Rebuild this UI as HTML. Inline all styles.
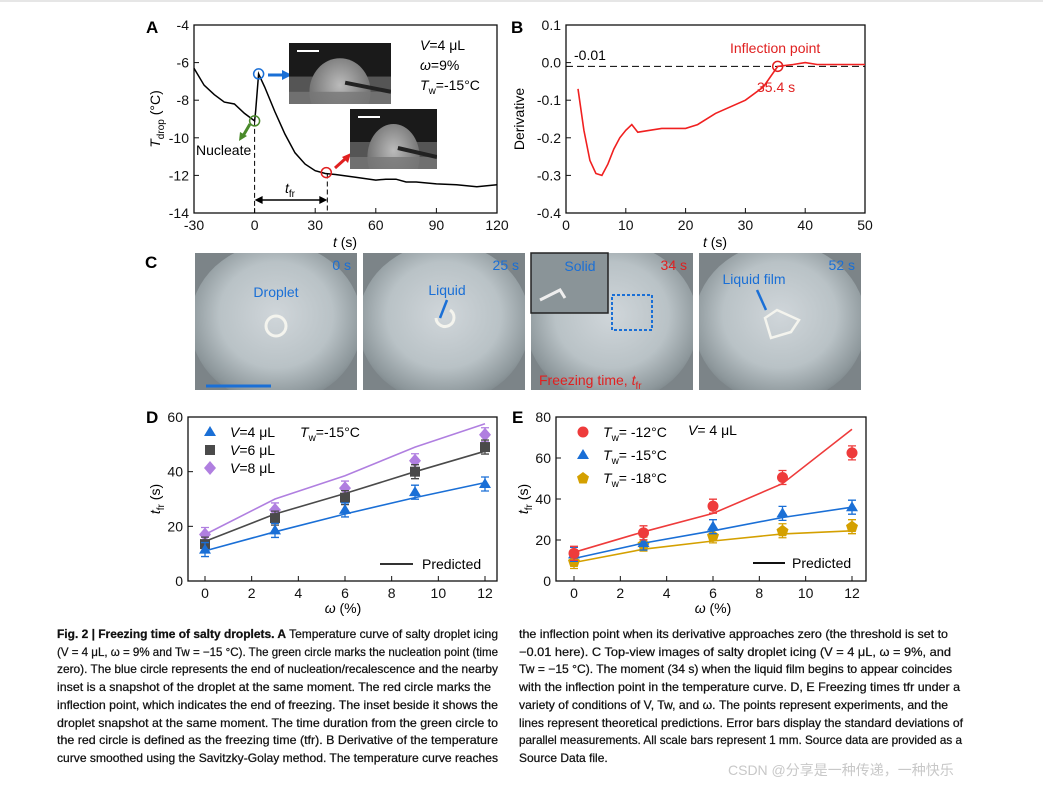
<!DOCTYPE html>
<html><head><meta charset="utf-8"><style>
body{margin:0;background:#fff;width:1043px;height:787px;overflow:hidden}
svg{font-family:"Liberation Sans",Arial,sans-serif}
.tk{font-size:14px;fill:#111}
.cap{font-size:12px;fill:#111;stroke:#111;stroke-width:0.25}
</style></head><body>
<svg id="s" width="1043" height="787" xmlns="http://www.w3.org/2000/svg">
<defs>
<radialGradient id="drop" cx="50%" cy="45%" r="60%"><stop offset="0" stop-color="#d0d6da"/><stop offset="0.55" stop-color="#b9c2c6"/><stop offset="0.85" stop-color="#8d979b"/><stop offset="1" stop-color="#6f787c"/></radialGradient>
<radialGradient id="dome" cx="50%" cy="40%" r="60%"><stop offset="0" stop-color="#bbb"/><stop offset="1" stop-color="#666"/></radialGradient>
<clipPath id="c0"><rect x="195" y="253" width="162" height="137"/></clipPath>
<clipPath id="c1"><rect x="363" y="253" width="162" height="137"/></clipPath>
<clipPath id="c2"><rect x="531" y="253" width="162" height="137"/></clipPath>
<clipPath id="c3"><rect x="699" y="253" width="162" height="137"/></clipPath>
<clipPath id="i0"><rect x="289" y="43" width="102" height="61"/></clipPath>
<clipPath id="i1"><rect x="350" y="109" width="87" height="60"/></clipPath>
</defs>
<line x1="0" y1="1" x2="1043" y2="1" stroke="#ccc"/>
<g id="gA"></g>
<g id="gB"></g>
<g id="gC"></g>
<g id="gD"></g>
<g id="gE"></g>
<g class="cap">
<text x="57" y="638" textLength="441" lengthAdjust="spacingAndGlyphs"><tspan font-weight="bold">Fig. 2 | Freezing time of salty droplets. A</tspan> Temperature curve of salty droplet icing</text>
<text x="57" y="656" textLength="441" lengthAdjust="spacingAndGlyphs">(V = 4 μL, ω = 9% and Tw = −15 °C). The green circle marks the nucleation point (time</text>
<text x="57" y="673" textLength="441" lengthAdjust="spacingAndGlyphs">zero). The blue circle represents the end of nucleation/recalescence and the nearby</text>
<text x="57" y="691" textLength="434" lengthAdjust="spacingAndGlyphs">inset is a snapshot of the droplet at the same moment. The red circle marks the</text>
<text x="57" y="709" textLength="441" lengthAdjust="spacingAndGlyphs">inflection point, which indicates the end of freezing. The inset beside it shows the</text>
<text x="57" y="727" textLength="441" lengthAdjust="spacingAndGlyphs">droplet snapshot at the same moment. The time duration from the green circle to</text>
<text x="57" y="744" textLength="441" lengthAdjust="spacingAndGlyphs">the red circle is defined as the freezing time (tfr). B Derivative of the temperature</text>
<text x="57" y="762" textLength="441" lengthAdjust="spacingAndGlyphs">curve smoothed using the Savitzky-Golay method. The temperature curve reaches</text>
<text x="519" y="638" textLength="429" lengthAdjust="spacingAndGlyphs">the inflection point when its derivative approaches zero (the threshold is set to</text>
<text x="519" y="656" textLength="432" lengthAdjust="spacingAndGlyphs">−0.01 here). C Top-view images of salty droplet icing (V = 4 μL, ω = 9%, and</text>
<text x="519" y="673" textLength="433" lengthAdjust="spacingAndGlyphs">Tw = −15 °C). The moment (34 s) when the liquid film begins to appear coincides</text>
<text x="519" y="691" textLength="441" lengthAdjust="spacingAndGlyphs">with the inflection point in the temperature curve. D, E Freezing times tfr under a</text>
<text x="519" y="709" textLength="429" lengthAdjust="spacingAndGlyphs">variety of conditions of V, Tw, and ω. The points represent experiments, and the</text>
<text x="519" y="727" textLength="444" lengthAdjust="spacingAndGlyphs">lines represent theoretical predictions. Error bars display the standard deviations of</text>
<text x="519" y="744" textLength="443" lengthAdjust="spacingAndGlyphs">parallel measurements. All scale bars represent 1 mm. Source data are provided as a</text>
<text x="519" y="762">Source Data file.</text>
</g>
<text x="728" y="775" font-size="14" fill="#c8c8c8" font-family="Liberation Sans, Noto Sans CJK SC, sans-serif">CSDN @分享是一种传递，一种快乐</text>
</svg>
<script>
// Panel A data
const tA=[-30,-25,-20,-15,-10,-5,0,0.5,2,5,10,15,20,25,30,35,40,50,60,65,70,75,80,90,100,110,120];
const TA=[-6.3,-7.2,-7.7,-8.1,-8.2,-8.7,-9.1,-8.6,-6.6,-7.3,-8.6,-9.8,-10.8,-11.4,-11.75,-11.9,-11.95,-12.1,-12.25,-12.2,-12.2,-12.35,-12.35,-12.45,-12.5,-12.6,-12.5];
const xTicksA=[-30,0,30,60,90,120];
const yTicksA=[-4,-6,-8,-10,-12,-14];
// Panel B data
const tB=[2,3,4,5,6,7,8,9,10,11,12,14,16,20,22,25,30,33,35.4,38,40,42,50];
const dB=[-0.07,-0.18,-0.26,-0.295,-0.3,-0.27,-0.23,-0.2,-0.18,-0.165,-0.185,-0.18,-0.175,-0.175,-0.165,-0.135,-0.1,-0.065,-0.01,-0.005,0,-0.005,-0.005];
const xTicksB=[0,10,20,30,40,50];
const yTicksB=[0.1,0.0,-0.1,-0.2,-0.3,-0.4];
// Panel D data
const omega=[0,3,6,9,12];
const d4=[11.5,18.5,26,32.5,35.5], d4p=[11,18,24.5,30.5,36];
const d6=[13.5,23,30.5,40,49], d6p=[14.5,24.5,32,40,47.5];
const d8=[17,26,34,44,53.5], d8p=[17,30,38.5,49,57.5];
// Panel E data
const e12=[13.5,23.5,36.5,50.5,62.5], e12p=[14,24,33,47.5,74];
const e15=[13,18.5,26.5,33,36], e15p=[11,18.5,24.5,31,36];
const e18=[9.5,18,22,24.5,26.5], e18p=[9,15.5,19.5,23,24.5];
const xTicksDE=[0,2,4,6,8,10,12];

const NS="http://www.w3.org/2000/svg";
function mk(p,tag,at,txt){const e=document.createElementNS(NS,tag);for(const k in at)e.setAttribute(k,at[k]);if(txt!==undefined)e.textContent=txt;p.appendChild(e);return e;}
function lin(d0,d1,r0,r1){return v=>r0+(v-d0)*(r1-r0)/(d1-d0);}
function axes(g,L,T,R,B,xs,ys,xt,yt,fmtY){
  const box=mk(g,'rect',{x:L,y:T,width:R-L,height:B-T,fill:'none',stroke:'#111','stroke-width':1.3});
  
  
  xt.forEach(v=>{const x=xs(v);mk(g,'line',{x1:x,y1:B,x2:x,y2:B-5,stroke:'#111'});
    const t=mk(g,'text',{x:x,y:B+17,'text-anchor':'middle',class:'tk'},String(v));
    
    });
  yt.forEach(v=>{const y=ys(v);mk(g,'line',{x1:L,y1:y,x2:L+5,y2:y,stroke:'#111'});
    const t=mk(g,'text',{x:L-5,y:y+5,'text-anchor':'end',class:'tk'},fmtY?fmtY(v):String(v));
    
    });
}
function path(g,xs,ys,X,Y,col,w){let d='';X.forEach((v,i)=>{d+=(i?'L':'M')+xs(v).toFixed(1)+','+ys(Y[i]).toFixed(1);});return mk(g,'path',{d:d,fill:'none',stroke:col,'stroke-width':w||1.5});}

// ---- A
const gA=document.getElementById('gA');
mk(gA,'text',{x:146,y:33,'font-size':17,'font-weight':'bold'},'A');
const xA=lin(-30,120,194,497), yA=lin(-4,-14,25,213);
axes(gA,194,25,497,213,xA,yA,xTicksA,yTicksA);
const la=path(gA,xA,yA,tA,TA,'#000',1.5);


mk(gA,'line',{x1:xA(0),y1:yA(-9.1),x2:xA(0),y2:213,stroke:'#000','stroke-dasharray':'5,3'});
mk(gA,'line',{x1:xA(36),y1:yA(-11.9),x2:xA(36),y2:213,stroke:'#000','stroke-dasharray':'5,3'});
mk(gA,'line',{x1:xA(0)+6,y1:200,x2:xA(36)-6,y2:200,stroke:'#000','stroke-width':1.5});
mk(gA,'path',{d:`M${xA(0)},200 l8,-4 v8z M${xA(36)},200 l-8,-4 v8z`,fill:'#000'});
mk(gA,'text',{x:285,y:193,'font-size':14},'').innerHTML='<tspan font-style="italic">t</tspan><tspan font-size="10" dy="4">fr</tspan>';
mk(gA,'circle',{cx:xA(0),cy:yA(-9.1),r:5,fill:'none',stroke:'#4a8a2a','stroke-width':1.5});
mk(gA,'circle',{cx:xA(2),cy:yA(-6.6),r:5,fill:'none',stroke:'#1a6fd6','stroke-width':1.5});
mk(gA,'circle',{cx:xA(35.5),cy:yA(-11.85),r:5,fill:'none',stroke:'#e02020','stroke-width':1.5});
mk(gA,'path',{d:'M250,124 L243,136',stroke:'#4a8a2a','stroke-width':3});mk(gA,'path',{d:'M239,141 l1,-9 l7,4z',fill:'#4a8a2a'});
mk(gA,'path',{d:'M268,75 H282',stroke:'#1a6fd6','stroke-width':3});mk(gA,'path',{d:'M292,75 l-10,-5 v10z',fill:'#1a6fd6'});
mk(gA,'path',{d:'M335,168 L345,159',stroke:'#e02020','stroke-width':3});mk(gA,'path',{d:'M351,153 l-3,10 l-6,-6z',fill:'#e02020'});
mk(gA,'text',{x:196,y:155,'font-size':14},'Nucleate');
[[289,43,102,61],[350,109,87,60]].forEach((r,i)=>{
  const im=mk(gA,'g',{'clip-path':'url(#i'+i+')'});
  
  
  mk(im,'rect',{x:r[0],y:r[1],width:r[2],height:r[3],fill:'#1a1a1a'});
  mk(im,'rect',{x:r[0],y:r[1]+r[3]*0.55,width:r[2],height:r[3]*0.45,fill:'#555'});
  mk(im,'ellipse',{cx:r[0]+r[2]*0.5,cy:r[1]+r[3]*0.8,rx:r[2]*0.3,ry:r[3]*0.55,fill:'url(#dome)'});
  mk(im,'rect',{x:r[0],y:r[1]+r[3]*0.8,width:r[2],height:r[3]*0.2,fill:'#777',opacity:0.8});
  mk(im,'line',{x1:r[0]+r[2]*0.55,y1:r[1]+r[3]*0.65,x2:r[0]+r[2],y2:r[1]+r[3]*0.8,stroke:'#222','stroke-width':4});
  mk(im,'line',{x1:r[0]+8,y1:r[1]+8,x2:r[0]+30,y2:r[1]+8,stroke:'#fff','stroke-width':2});
});
mk(gA,'text',{x:420,y:50,'font-size':14},'').innerHTML='<tspan font-style="italic">V</tspan>=4 μL';
mk(gA,'text',{x:420,y:70,'font-size':14},'').innerHTML='<tspan font-style="italic">ω</tspan>=9%';
mk(gA,'text',{x:420,y:90,'font-size':14},'').innerHTML='<tspan font-style="italic">T</tspan><tspan font-size="10" dy="4">w</tspan><tspan dy="-4">=-15°C</tspan>';
mk(gA,'text',{x:345,y:247,'font-size':14,'text-anchor':'middle'},'').innerHTML='<tspan font-style="italic">t</tspan> (s)';
mk(gA,'text',{transform:'translate(160,119) rotate(-90)','font-size':14,'text-anchor':'middle'},'').innerHTML='<tspan font-style="italic">T</tspan><tspan font-size="10" dy="4">drop</tspan><tspan dy="-4"> (°C)</tspan>';

// ---- B
const gB=document.getElementById('gB');
mk(gB,'text',{x:511,y:33,'font-size':17,'font-weight':'bold'},'B');
const xB=lin(0,50,566,865), yB=lin(0.1,-0.4,25,213);
axes(gB,566,25,865,213,xB,yB,xTicksB,yTicksB,v=>v.toFixed(1));
mk(gB,'line',{x1:566,y1:yB(-0.01),x2:865,y2:yB(-0.01),stroke:'#000','stroke-dasharray':'7,4'});
const lb=path(gB,xB,yB,tB,dB,'#f02020',1.6);


mk(gB,'circle',{cx:xB(35.4),cy:yB(-0.01),r:5,fill:'none',stroke:'#e02020','stroke-width':1.5});
mk(gB,'text',{x:574,y:60,'font-size':14},'-0.01');
mk(gB,'text',{x:730,y:53,'font-size':14,fill:'#e02020'},'Inflection point');
mk(gB,'text',{x:757,y:92,'font-size':14,fill:'#e02020'},'35.4 s');
mk(gB,'text',{x:715,y:247,'font-size':14,'text-anchor':'middle'},'').innerHTML='<tspan font-style="italic">t</tspan> (s)';
mk(gB,'text',{transform:'translate(524,119) rotate(-90)','font-size':14,'text-anchor':'middle'},'Derivative');

// ---- C
const gC=document.getElementById('gC');
mk(gC,'text',{x:145,y:268,'font-size':17,'font-weight':'bold'},'C');
const labs=['0 s','25 s','34 s','52 s'];
[195,363,531,699].forEach((x0,i)=>{
  const im=mk(gC,'g',{'clip-path':'url(#c'+i+')'});
  
  
  mk(im,'rect',{x:x0,y:253,width:162,height:137,fill:'#7c8488'});
  mk(im,'ellipse',{cx:x0+81,cy:323,rx:86,ry:80,fill:'url(#drop)'});
  mk(gC,'text',{x:x0+156,y:270,'font-size':14,'text-anchor':'end',fill:i==2?'#e02020':'#1a6fd6'},labs[i]);
});
mk(gC,'circle',{cx:276,cy:326,r:10,fill:'none',stroke:'#f4f4ee','stroke-width':3});
mk(gC,'text',{x:276,y:297,'font-size':14,'text-anchor':'middle',fill:'#1a6fd6'},'Droplet');
mk(gC,'line',{x1:206,y1:386,x2:271,y2:386,stroke:'#1a6fd6','stroke-width':3});
mk(gC,'path',{d:'M436,318 a9,9 0 1 0 14,-8',fill:'none',stroke:'#f4f4ee','stroke-width':3});
mk(gC,'text',{x:447,y:295,'font-size':14,'text-anchor':'middle',fill:'#1a6fd6'},'Liquid');
mk(gC,'path',{d:'M447,300 L440,318',stroke:'#1a6fd6','stroke-width':2.5});
mk(gC,'rect',{x:531,y:253,width:77,height:60,fill:'#8a9498',stroke:'#222','stroke-width':1.5});
mk(gC,'path',{d:'M540,300 l20,-10 l5,8',stroke:'#eee','stroke-width':3,fill:'none'});
mk(gC,'text',{x:580,y:271,'font-size':14,'text-anchor':'middle',fill:'#1a6fd6'},'Solid');
mk(gC,'rect',{x:612,y:295,width:40,height:35,fill:'none',stroke:'#1a6fd6','stroke-width':2,'stroke-dasharray':'3,2'});
mk(gC,'text',{x:539,y:385,'font-size':14,fill:'#e02020'},'').innerHTML='Freezing time, <tspan font-style="italic">t</tspan><tspan font-size="10" dy="4">fr</tspan>';
mk(gC,'path',{d:'M765,318 l12,-8 l22,10 l-8,12 l-20,6z',fill:'none',stroke:'#f4f4ee','stroke-width':2.5});
mk(gC,'text',{x:754,y:284,'font-size':14,'text-anchor':'middle',fill:'#1a6fd6'},'Liquid film');
mk(gC,'path',{d:'M757,290 L766,310',stroke:'#1a6fd6','stroke-width':2.5});

// markers
function marker(g,shape,x,y,c){
  if(shape==='tri')return mk(g,'path',{d:`M${x},${y-6} l6,10 h-12z`,fill:c});
  if(shape==='sq')return mk(g,'rect',{x:x-5,y:y-5,width:10,height:10,fill:c});
  if(shape==='dia')return mk(g,'path',{d:`M${x},${y-7} l6,7 l-6,7 l-6,-7z`,fill:c});
  if(shape==='cir')return mk(g,'circle',{cx:x,cy:y,r:5.5,fill:c});
  if(shape==='pent')return mk(g,'path',{d:`M${x},${y-6} l6,4.5 l-2.3,7 h-7.4 l-2.3,-7z`,fill:c});
}
function series(g,xs,ys,X,pts,pred,shape,col,lc,nm){
  const l=path(g,xs,ys,X,pred,lc||col,1.6);
  
  
  X.forEach((v,i)=>{const x=xs(v),y=ys(pts[i]);
    mk(g,'path',{d:`M${x-4},${y-7}h8M${x},${y-7}v14M${x-4},${y+7}h8`,stroke:col,'stroke-width':1.3,fill:'none'});
    const m=marker(g,shape,x,y,col);
    
    });
}
// ---- D
const gD=document.getElementById('gD');
mk(gD,'text',{x:146,y:423,'font-size':17,'font-weight':'bold'},'D');
const xD=lin(0,12,205,485), yD=lin(0,60,581,417);
axes(gD,188,417,497,581,xD,yD,xTicksDE,[0,20,40,60]);
series(gD,xD,yD,omega,d8,d8p,'dia','#b07fe0','#b07fe0','v8');
series(gD,xD,yD,omega,d6,d6p,'sq','#4a4a4a','#4a4a4a','v6');
series(gD,xD,yD,omega,d4,d4p,'tri','#1a6fd6','#1a6fd6','v4');
[['tri','#1a6fd6','4'],['sq','#4a4a4a','6'],['dia','#b07fe0','8']].forEach((e,i)=>{
  marker(gD,e[0],210,432+i*18,e[1]);
  mk(gD,'text',{x:230,y:437+i*18,'font-size':14},'').innerHTML='<tspan font-style="italic">V</tspan>='+e[2]+' μL';
});
mk(gD,'text',{x:300,y:437,'font-size':14},'').innerHTML='<tspan font-style="italic">T</tspan><tspan font-size="10" dy="4">w</tspan><tspan dy="-4">=-15°C</tspan>';
mk(gD,'line',{x1:380,y1:564,x2:413,y2:564,stroke:'#333','stroke-width':2});
mk(gD,'text',{x:422,y:569,'font-size':14},'Predicted');
mk(gD,'text',{x:343,y:613,'font-size':14,'text-anchor':'middle'},'').innerHTML='<tspan font-style="italic">ω</tspan> (%)';
mk(gD,'text',{transform:'translate(160,499) rotate(-90)','font-size':14,'text-anchor':'middle'},'').innerHTML='<tspan font-style="italic">t</tspan><tspan font-size="10" dy="4">fr</tspan><tspan dy="-4"> (s)</tspan>';

// ---- E
const gE=document.getElementById('gE');
mk(gE,'text',{x:512,y:423,'font-size':17,'font-weight':'bold'},'E');
const xE=lin(0,12,574,852), yE=lin(0,80,581,417);
axes(gE,556,417,866,581,xE,yE,xTicksDE,[0,20,40,60,80]);
series(gE,xE,yE,omega,e18,e18p,'pent','#d4a000','#d4a000','tw18');
series(gE,xE,yE,omega,e15,e15p,'tri','#1a6fd6','#1a6fd6','tw15');
series(gE,xE,yE,omega,e12,e12p,'cir','#ee3b3b','#ee3b3b','tw12');
[['cir','#ee3b3b','-12'],['tri','#1a6fd6','-15'],['pent','#d4a000','-18']].forEach((e,i)=>{
  marker(gE,e[0],583,432+i*23,e[1]);
  mk(gE,'text',{x:603,y:437+i*23,'font-size':14},'').innerHTML='<tspan font-style="italic">T</tspan><tspan font-size="10" dy="4">w</tspan><tspan dy="-4">= '+e[2]+'°C</tspan>';
});
mk(gE,'text',{x:688,y:435,'font-size':14},'').innerHTML='<tspan font-style="italic">V</tspan>= 4 μL';
mk(gE,'line',{x1:753,y1:563,x2:785,y2:563,stroke:'#111','stroke-width':2});
mk(gE,'text',{x:792,y:568,'font-size':14},'Predicted');
mk(gE,'text',{x:713,y:613,'font-size':14,'text-anchor':'middle'},'').innerHTML='<tspan font-style="italic">ω</tspan> (%)';
mk(gE,'text',{transform:'translate(528,499) rotate(-90)','font-size':14,'text-anchor':'middle'},'').innerHTML='<tspan font-style="italic">t</tspan><tspan font-size="10" dy="4">fr</tspan><tspan dy="-4"> (s)</tspan>';
</script>
</body></html>
